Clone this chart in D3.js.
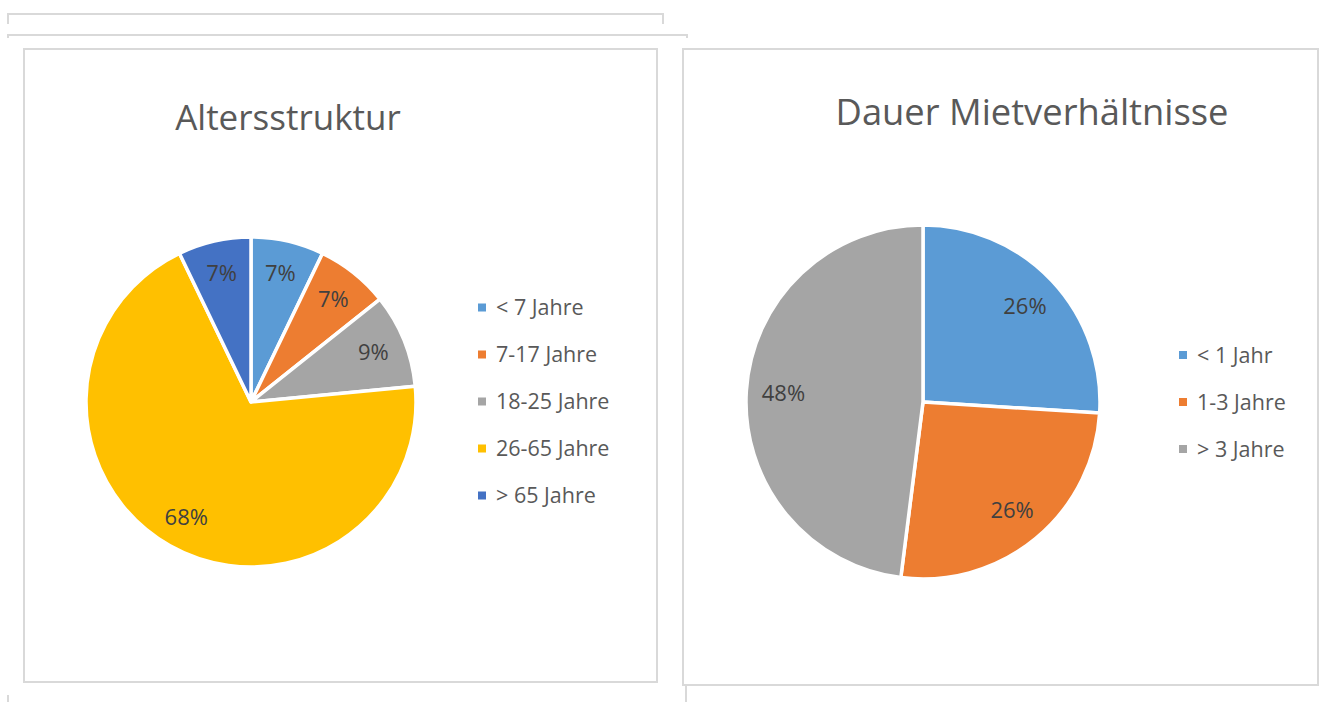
<!DOCTYPE html>
<html>
<head>
<meta charset="utf-8">
<script src="https://cdn.jsdelivr.net/npm/d3@7"></script>
<style>
  html, body { margin: 0; padding: 0; background: #ffffff; }
  svg { display: block; font-family: "Open Sans", "Noto Sans", sans-serif; }
</style>
</head>
<body>
<svg id="chart" width="1320" height="702"></svg>
<script>
// ---- Data ----
const ageTitle = "Altersstruktur";
const ageCategories = ["< 7 Jahre", "7-17 Jahre", "18-25 Jahre", "26-65 Jahre", "> 65 Jahre"];
const ageValues = [7, 7, 9, 68, 7];
const ageColors = ["#5B9BD5", "#ED7D31", "#A5A5A5", "#FFC000", "#4472C4"];

const tenureTitle = "Dauer Mietverhältnisse";
const tenureCategories = ["< 1 Jahr", "1-3 Jahre", "> 3 Jahre"];
const tenureValues = [26, 26, 48];
const tenureColors = ["#5B9BD5", "#ED7D31", "#A5A5A5"];

// ---- Drawing ----
const svg = d3.select("#chart");
svg.append("rect").attr("width", 1320).attr("height", 702).attr("fill", "#fff");

const frame = "#d9d9d9";
const deco = svg.append("g").attr("fill", "none").attr("stroke", frame).attr("stroke-width", 2);
// stray frame fragments around the panels
deco.append("path").attr("d", "M8,24 V14 H663 V24");
deco.append("path").attr("d", "M8,38 V35 H687 V38");
deco.append("path").attr("d", "M8,695 V702");
deco.append("path").attr("d", "M686,686 V702");

function drawPanel(cfg) {
  const g = svg.append("g");
  g.append("rect")
    .attr("x", cfg.box[0]).attr("y", cfg.box[1])
    .attr("width", cfg.box[2]).attr("height", cfg.box[3])
    .attr("fill", "#fff").attr("stroke", frame).attr("stroke-width", 2);

  g.append("text")
    .attr("x", cfg.titleX).attr("y", cfg.titleY)
    .attr("text-anchor", "middle")
    .attr("font-size", cfg.titleSize)
    .attr("fill", "#595959")
    .text(cfg.title);

  const pie = d3.pie().sort(null).value(d => d.v);
  const data = cfg.categories.map((c, i) => ({ c, v: cfg.values[i], col: cfg.colors[i] }));
  const arcs = pie(data);
  const arc = d3.arc().innerRadius(0).outerRadius(cfg.r);
  const labelArc = d3.arc().innerRadius(cfg.r * cfg.labelK).outerRadius(cfg.r * cfg.labelK);

  const pg = g.append("g").attr("transform", `translate(${cfg.cx},${cfg.cy})`);
  pg.selectAll("path.slice").data(arcs).join("path")
    .attr("class", "slice")
    .attr("d", arc)
    .attr("fill", d => d.data.col)
    .attr("stroke", "#fff")
    .attr("stroke-width", 3.5)
    .attr("stroke-linejoin", "round");

  pg.selectAll("text.lbl").data(arcs).join("text")
    .attr("class", "lbl")
    .attr("transform", d => `translate(${labelArc.centroid(d)})`)
    .attr("text-anchor", "middle")
    .attr("dy", "0.36em")
    .attr("font-size", cfg.labelSize)
    .attr("fill", "#404040")
    .text(d => d.data.v + "%");

  const lg = g.append("g");
  const rowY = d3.scalePoint().domain(cfg.categories)
    .range([cfg.legendY0, cfg.legendY0 + cfg.legendStep * (cfg.categories.length - 1)]);
  const rows = lg.selectAll("g").data(data).join("g")
    .attr("transform", d => `translate(${cfg.legendX},${rowY(d.c)})`);
  rows.append("rect").attr("x", 0).attr("y", -4).attr("width", 8).attr("height", 8)
    .attr("fill", d => d.col);
  rows.append("text").attr("x", 18).attr("dy", "0.36em")
    .attr("font-size", cfg.legendSize).attr("fill", "#595959")
    .text(d => d.c);
}

drawPanel({
  box: [24, 49, 633, 633],
  title: ageTitle, titleX: 288, titleY: 130, titleSize: 35,
  categories: ageCategories, values: ageValues, colors: ageColors,
  cx: 251, cy: 402, r: 165, labelK: 0.8, labelSize: 22,
  legendX: 478, legendY0: 307.5, legendStep: 47, legendSize: 21.5
});

drawPanel({
  box: [683, 49, 635, 636],
  title: tenureTitle, titleX: 1032, titleY: 125, titleSize: 36.3,
  categories: tenureCategories, values: tenureValues, colors: tenureColors,
  cx: 923, cy: 402, r: 177, labelK: 0.79, labelSize: 22,
  legendX: 1179, legendY0: 355, legendStep: 47, legendSize: 21.5
});
</script>
</body>
</html>
